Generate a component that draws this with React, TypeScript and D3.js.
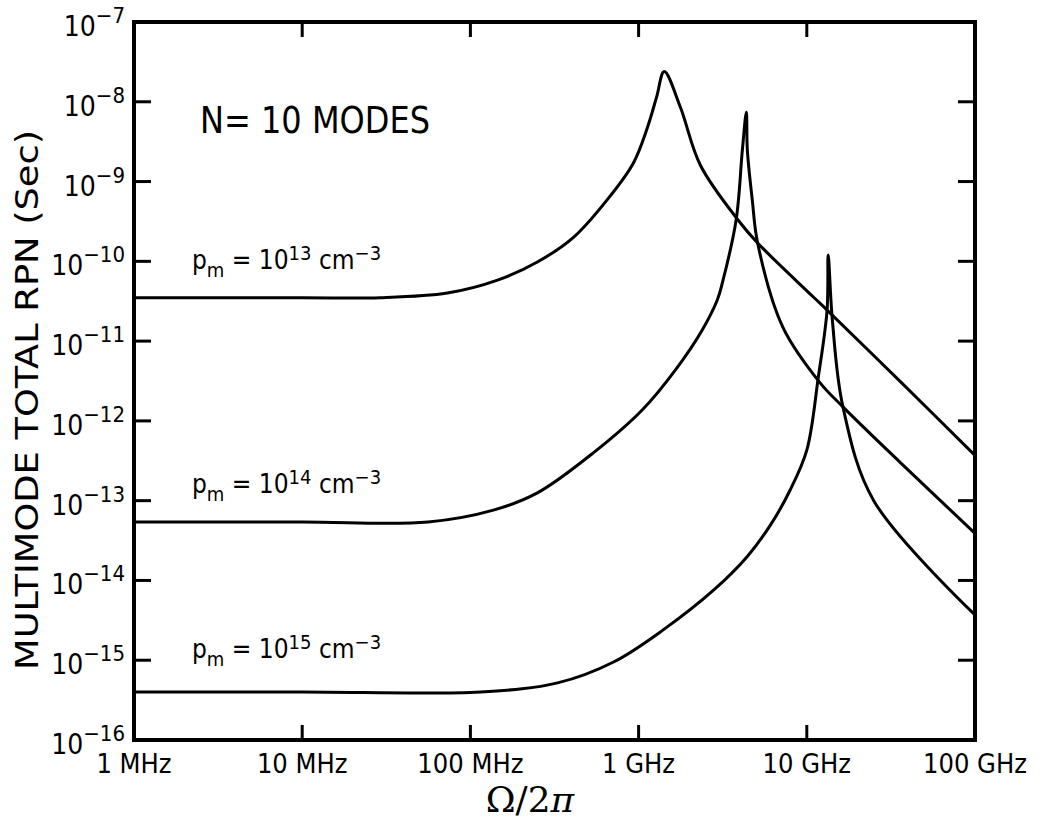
import React from "react";
import * as d3 from "d3";

// frequency axis (Hz) and its labels
const freqTicks = [1e6, 1e7, 1e8, 1e9, 1e10, 1e11];
const freqLabels = ["1 MHz", "10 MHz", "100 MHz", "1 GHz", "10 GHz", "100 GHz"];

// RPN axis decades (exponent of 10, seconds)
const rpnExps = [-7, -8, -9, -10, -11, -12, -13, -14, -15, -16];

// p_m = 1e13 cm^-3
const f13 = [1e6, 1e7, 2.9e7, 7.3e7, 1.45e8, 2.5e8, 4.1e8, 6.5e8, 9.3e8, 1.13e9, 1.28e9, 1.42e9, 1.77e9, 2.33e9, 3.9e9, 5.1e9, 1.09e10, 1.32e10, 3.6e10, 1e11];
const rpn13 = [3.5e-11, 3.5e-11, 3.5e-11, 4.0e-11, 5.8e-11, 9.8e-11, 2.0e-10, 5.9e-10, 1.7e-9, 4.8e-9, 1.15e-8, 2.4e-8, 8.6e-9, 1.6e-9, 3.3e-10, 1.7e-10, 3.6e-11, 2.45e-11, 3.1e-12, 3.7e-13];

// p_m = 1e14 cm^-3
const f14 = [1e6, 1e7, 5.6e7, 1.37e8, 2.5e8, 5.4e8, 1.05e9, 1.7e9, 2.39e9, 2.94e9, 3.15e9, 3.8e9, 4.14e9, 4.37e9, 4.43e9, 4.74e9, 5.1e9, 7.2e9, 1.2e10, 1.64e10, 3.6e10, 1e11];
const rpn14 = [5.4e-14, 5.4e-14, 5.4e-14, 7.6e-14, 1.25e-13, 4.0e-13, 1.37e-12, 4.7e-12, 1.38e-11, 3.3e-11, 5.4e-11, 3.3e-10, 2.5e-9, 7.4e-9, 2.5e-9, 5.9e-10, 1.7e-10, 1.5e-11, 3.0e-12, 1.5e-12, 3.0e-13, 3.9e-14];

// p_m = 1e15 cm^-3
const f15 = [1e6, 1e7, 1.15e8, 3.3e8, 7.1e8, 1.4e9, 2.8e9, 4.43e9, 6.1e9, 7.96e9, 1.0e10, 1.17e10, 1.32e10, 1.34e10, 1.42e10, 1.64e10, 2.5e10, 1e11];
const rpn15 = [4.0e-16, 4.0e-16, 4.0e-16, 5.2e-16, 9.5e-16, 2.4e-15, 7.6e-15, 2.0e-14, 5.0e-14, 1.36e-13, 4.3e-13, 3.5e-12, 2.45e-11, 1.2e-10, 1.8e-11, 1.5e-12, 1.0e-13, 3.7e-15];

const FONT = "'DejaVu Sans Condensed', 'Liberation Sans Narrow', 'Liberation Sans', sans-serif";

const W = 1046;
const H = 824;
const margin = { top: 22, right: 71, bottom: 84, left: 134 };

const App = () => {
  const x = d3
    .scaleLog()
    .domain([1e6, 1e11])
    .range([margin.left, W - margin.right]);

  const y = d3
    .scaleLog()
    .domain([1e-16, 1e-7])
    .range([H - margin.bottom, margin.top]);

  const line = d3
    .line<[number, number]>()
    .x((d) => x(d[0]))
    .y((d) => y(d[1]))
    .curve(d3.curveCatmullRom.alpha(0.5));

  const series = [
    { f: f13, v: rpn13 },
    { f: f14, v: rpn14 },
    { f: f15, v: rpn15 }
  ];

  const x0 = x(1e6);
  const x1 = x(1e11);
  const y0 = y(1e-16);
  const y1 = y(1e-7);
  const tick = 17;

  const densityLabel = (exp: string, yy: number) => (
    <text x={192} y={yy} fontFamily={FONT} fontSize={26} fill="#000">
      p<tspan dy={8} fontSize={20}>m</tspan>
      <tspan dy={-8}> = 10</tspan>
      <tspan dy={-9} fontSize={20}>{exp}</tspan>
      <tspan dy={9}> cm</tspan>
      <tspan dy={-9} fontSize={20}>−3</tspan>
    </text>
  );

  return (
    <svg width={W} height={H} style={{ display: "block", position: "absolute", left: 0, top: 0 }}>
      <rect width={W} height={H} fill="#fff" />

      {/* curves */}
      {series.map((s, i) => (
        <path
          key={i}
          d={line(s.f.map((f, j) => [f, s.v[j]] as [number, number])) || ""}
          fill="none"
          stroke="#000"
          strokeWidth={3}
          strokeLinejoin="round"
        />
      ))}

      {/* frame */}
      <rect x={x0} y={y1} width={x1 - x0} height={y0 - y1} fill="none" stroke="#000" strokeWidth={4} />

      {/* y ticks */}
      {rpnExps.slice(1, -1).map((e) => (
        <g key={e}>
          <line x1={x0} x2={x0 + tick} y1={y(10 ** e)} y2={y(10 ** e)} stroke="#000" strokeWidth={3} />
          <line x1={x1} x2={x1 - tick} y1={y(10 ** e)} y2={y(10 ** e)} stroke="#000" strokeWidth={3} />
        </g>
      ))}
      {rpnExps.map((e) => (
        <text key={e} x={125} y={y(10 ** e) + 14} textAnchor="end" fontFamily={FONT} fontSize={28} fill="#000">
          10<tspan dy={-13} fontSize={22}>{"−" + Math.abs(e)}</tspan>
        </text>
      ))}

      {/* x ticks */}
      {freqTicks.slice(1, -1).map((f) => (
        <g key={f}>
          <line x1={x(f)} x2={x(f)} y1={y0} y2={y0 - 15} stroke="#000" strokeWidth={3} />
          <line x1={x(f)} x2={x(f)} y1={y1} y2={y1 + 15} stroke="#000" strokeWidth={3} />
        </g>
      ))}
      {freqTicks.map((f, i) => (
        <text key={f} x={x(f)} y={773} textAnchor="middle" fontFamily={FONT} fontSize={27} fill="#000">
          {freqLabels[i]}
        </text>
      ))}

      {/* axis titles */}
      <text
        transform="translate(38,400) rotate(-90)"
        textAnchor="middle"
        fontFamily={FONT}
        fontSize={32}
        textLength={540}
        lengthAdjust="spacingAndGlyphs"
        fill="#000"
      >
        MULTIMODE TOTAL RPN (Sec)
      </text>
      <text x={530} y={812} textAnchor="middle" fontFamily="'DejaVu Serif', serif" fontSize={36} fill="#000">
        Ω/2<tspan fontStyle="italic">π</tspan>
      </text>

      {/* annotations */}
      <text x={200} y={133} fontFamily={FONT} fontSize={38} textLength={230} lengthAdjust="spacingAndGlyphs" fill="#000">
        N= 10 MODES
      </text>
      {densityLabel("13", 269)}
      {densityLabel("14", 493)}
      {densityLabel("15", 658)}
    </svg>
  );
};

export default App;
